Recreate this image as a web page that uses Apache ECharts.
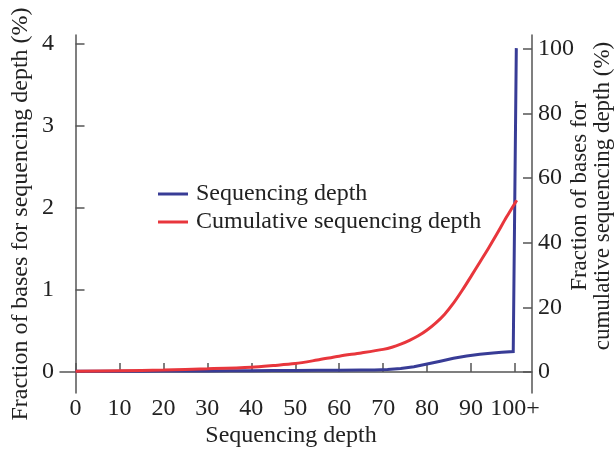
<!DOCTYPE html>
<html>
<head>
<meta charset="utf-8">
<script src="https://cdn.jsdelivr.net/npm/echarts@6/dist/echarts.min.js"></script>
<style>
html,body{margin:0;padding:0;background:#fff;}
#c{width:616px;height:451px;}
</style>
</head>
<body>
<div id="c"></div>
<script>
// ---- data ----
var xTicks = [0, 10, 20, 30, 40, 50, 60, 70, 80, 90, 100];
var leftTicks = [0, 1, 2, 3, 4];
var rightTicks = [0, 20, 40, 60, 80, 100];

var depthX = [0, 5, 10, 15, 20, 25, 30, 35, 40, 45, 50, 55, 60, 65, 68, 71, 74, 77, 80, 83, 86, 89, 92, 95, 97, 99.6, 100.3];
var depthY = [0.01, 0.01, 0.01, 0.01, 0.012, 0.012, 0.013, 0.014, 0.015, 0.017, 0.019, 0.021, 0.022, 0.023, 0.025, 0.03, 0.042, 0.065, 0.097, 0.132, 0.168, 0.196, 0.217, 0.233, 0.241, 0.25, 3.95];

var cumX = [0, 10, 20, 30, 40, 45, 50, 55, 60, 65, 70, 72, 74, 76, 78, 80, 82, 84, 86, 88, 90, 92, 94, 96, 98, 100.4];
var cumY = [0.2, 0.4, 0.6, 1.0, 1.5, 2.0, 2.6, 3.7, 4.9, 5.9, 7.0, 7.65, 8.6, 9.8, 11.2, 13.0, 15.2, 17.9, 21.3, 25.3, 29.6, 34.0, 38.4, 43.0, 47.8, 53.2];

function pairs(xs, ys) { return xs.map(function (x, i) { return [x, ys[i]]; }); }

var FONT = 'Liberation Serif';
var AX = '#555';
var TXT = '#222';

var chart = echarts.init(document.getElementById('c'), null, {renderer: 'canvas'});
chart.setOption({
  animation: false,
  backgroundColor: '#fff',
  textStyle: {fontFamily: FONT},
  grid: {left: 60, right: 84, top: 35, bottom: 58, containLabel: false, outerBoundsMode: 'none'},
  legend: {
    orient: 'vertical',
    left: 153, top: 177,
    itemWidth: 30, itemHeight: 3, itemGap: 4,
    icon: 'rect',
    textStyle: {fontFamily: FONT, fontSize: 24, color: TXT, lineHeight: 24, padding: [0, 0, 0, 3]},
    data: ['Sequencing depth', 'Cumulative sequencing depth']
  },
  xAxis: {
    type: 'value', min: -3.53, max: 103.87,
    name: 'Sequencing depth', nameLocation: 'middle', nameGap: 31, nameMoveOverlap: false,
    nameTextStyle: {fontFamily: FONT, fontSize: 24, color: TXT, padding: [0, 10, 0, 0]},
    axisLine: {show: true, lineStyle: {color: AX, width: 1.5}},
    axisTick: {show: true, inside: true, length: 9, customValues: xTicks, lineStyle: {color: AX, width: 1.5}},
    axisLabel: {customValues: xTicks, margin: 4, fontFamily: FONT, fontSize: 24, color: TXT,
      formatter: function (v) { return v === 100 ? '100+' : String(v); }},
    splitLine: {show: false}
  },
  yAxis: [{
    type: 'value', position: 'left', min: -0.256, max: 4.11,
    name: 'Fraction of bases for sequencing depth (%)', nameLocation: 'middle', nameGap: 27, nameRotate: 90, nameMoveOverlap: false,
    nameTextStyle: {fontFamily: FONT, fontSize: 24, color: TXT},
    axisLine: {show: true, lineStyle: {color: AX, width: 1.5}},
    axisTick: {show: true, inside: true, length: 9, customValues: leftTicks, lineStyle: {color: AX, width: 1.5}},
    axisLabel: {customValues: leftTicks, margin: 6, fontFamily: FONT, fontSize: 24, color: TXT},
    splitLine: {show: false}
  }, {
    type: 'value', position: 'right', min: -6.5, max: 104.33,
    name: 'Fraction of bases for\ncumulative sequencing depth (%)', nameLocation: 'middle', nameGap: 36, nameRotate: 90, nameMoveOverlap: false,
    nameTextStyle: {fontFamily: FONT, fontSize: 23, color: TXT, lineHeight: 23, padding: [0, 0, 0, 36]},
    axisLine: {show: true, lineStyle: {color: AX, width: 1.5}},
    axisTick: {show: true, inside: true, length: 9, customValues: rightTicks, lineStyle: {color: AX, width: 1.5}},
    axisLabel: {customValues: rightTicks, margin: 6, fontFamily: FONT, fontSize: 24, color: TXT},
    splitLine: {show: false}
  }],
  series: [{
    name: 'Sequencing depth', type: 'line', yAxisIndex: 0,
    data: pairs(depthX, depthY),
    showSymbol: false, symbol: 'none', smooth: false,
    lineStyle: {color: '#383c96', width: 3, join: 'miter'},
    itemStyle: {color: '#383c96'}
  }, {
    name: 'Cumulative sequencing depth', type: 'line', yAxisIndex: 1,
    data: pairs(cumX, cumY),
    showSymbol: false, symbol: 'none', smooth: 0.3,
    lineStyle: {color: '#e8363c', width: 3},
    itemStyle: {color: '#e8363c'}
  }]
});
</script>
</body>
</html>
